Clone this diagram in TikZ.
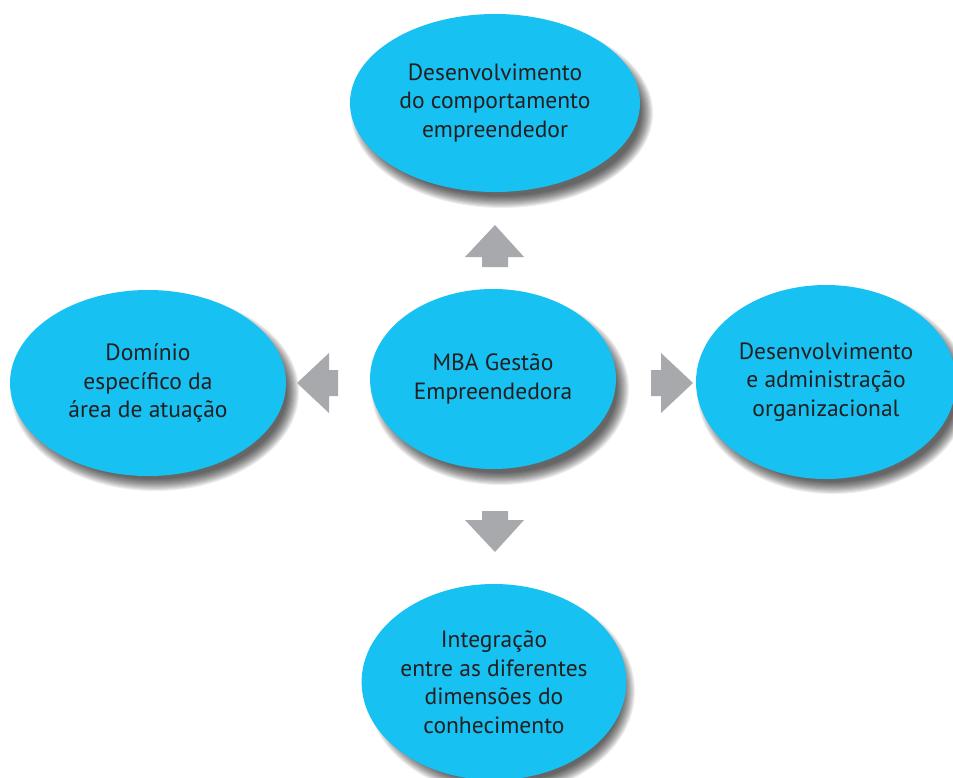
\documentclass[tikz,border=0pt]{standalone}
\usepackage{fontspec}
\setmainfont{PT Sans}
\usetikzlibrary{shapes.geometric,calc}
\definecolor{bubble}{HTML}{17C1F1}
\definecolor{arrowgrey}{HTML}{A7A9AC}
\definecolor{txt}{HTML}{231F20}
\tikzset{
  bubble/.style={ellipse, fill=bubble, inner sep=0pt, align=center,
    font=\fontsize{23.5}{28.5}\selectfont, text=txt},
  blockarrow/.style={fill=arrowgrey, draw=none},
}
\newcommand{\softshadow}[3]{% center, rx, ry
  \foreach \k in {0,...,11}{
    \fill[black, opacity=0.07] ($#1+(7,9)$) ellipse ({#2+6-\k*1.1} and {#3+6-\k*1.1});
  }
}
\begin{document}
\begin{tikzpicture}[x=1pt,y=-1pt]
\clip (0,0) rectangle (953,777);
\fill[white] (0,0) rectangle (953,777);
% shadows
\softshadow{(495,104)}{145}{89}
\softshadow{(148,383)}{138}{93}
\softshadow{(826,382)}{130}{97}
\softshadow{(494,682)}{128}{98}
\softshadow{(493,380)}{123}{90}
% bubbles
\node[bubble, minimum width=290pt, minimum height=178pt] (top) at (495,103)
  {Desenvolvimento\\do comportamento\\empreendedor};
\node[bubble, minimum width=276pt, minimum height=186pt] (left) at (148,383)
  {Domínio\\específico da\\área de atuação};
\node[bubble, minimum width=260pt, minimum height=194pt] (right) at (826,382)
  {Desenvolvimento\\e administração\\organizacional};
\node[bubble, minimum width=256pt, minimum height=196pt] (bottom) at (494,682)
  {Integração\\entre as diferentes\\dimensões do\\conhecimento};
\node[bubble, minimum width=246pt, minimum height=180pt] (center) at (493,379)
  {MBA Gestão\\Empreendedora};
% block arrows
\coordinate (c) at (493,380);
\fill[blockarrow] ($(c)+(2,-155)$) -- ($(c)+(31,-123)$) -- ($(c)+(15,-123)$) -- ($(c)+(15,-113)$)
  -- ($(c)+(-11,-113)$) -- ($(c)+(-11,-123)$) -- ($(c)+(-28,-123)$) -- cycle;
\fill[blockarrow] ($(c)+(2,172)$) -- ($(c)+(31,140)$) -- ($(c)+(15,140)$) -- ($(c)+(15,131)$)
  -- ($(c)+(-11,131)$) -- ($(c)+(-11,140)$) -- ($(c)+(-28,140)$) -- cycle;
\fill[blockarrow] ($(c)+(-196,3)$) -- ($(c)+(-164,-27)$) -- ($(c)+(-164,-10)$) -- ($(c)+(-155,-10)$)
  -- ($(c)+(-155,16)$) -- ($(c)+(-164,16)$) -- ($(c)+(-164,33)$) -- cycle;
\fill[blockarrow] ($(c)+(200,3)$) -- ($(c)+(168,-27)$) -- ($(c)+(168,-10)$) -- ($(c)+(158,-10)$)
  -- ($(c)+(158,16)$) -- ($(c)+(168,16)$) -- ($(c)+(168,33)$) -- cycle;
\end{tikzpicture}
\end{document}
